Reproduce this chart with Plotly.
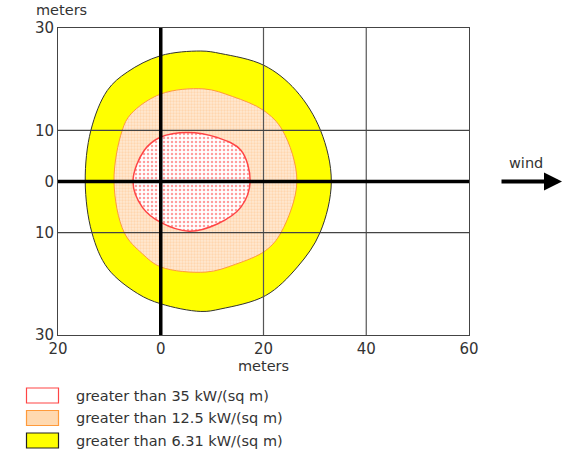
import plotly.graph_objects as go

# threat zone outlines (meters)
yellow_x = [33.2, 31.1, 26.3, 20.1, 11.7, 7.8, 0.0, -6.5, -10.4, -13.6, -14.7,
            -13.4, -10.3, -4.5, 0.0, 7.8, 11.7, 20.4, 26.6, 31.0, 33.2]
yellow_y = [0.0, 10.0, 17.8, 22.7, 25.0, 25.5, 24.6, 21.4, 17.8, 10.0, 0.0,
            -10.0, -17.0, -21.9, -23.9, -25.4, -24.9, -22.3, -16.7, -10.0, 0.0]

orange_x = [26.5, 23.7, 20.0, 14.0, 8.4, 0.0, -5.8, -7.5, -9.1,
            -7.1, -3.6, 0.0, 8.8, 14.5, 20.4, 23.4, 26.5]
orange_y = [0.0, 10.0, 13.9, 16.6, 18.1, 17.1, 13.2, 10.0, 0.0,
            -10.0, -14.1, -16.7, -17.7, -16.2, -13.5, -10.0, 0.0]

red_x = [17.4, 15.6, 11.0, 5.2, 0.0, -3.2, -5.4, -3.6, 0.0, 5.5, 11.0, 15.6, 17.4]
red_y = [0.0, 6.1, 8.6, 9.6, 8.7, 6.1, 0.0, -5.0, -8.0, -9.7, -8.3, -5.0, 0.0]

x_ticks = [-20, 0, 20, 40, 60]
x_tick_text = ['20', '0', '20', '40', '60']
y_ticks = [-30, -10, 0, 10, 30]
y_tick_text = ['30', '10', '0', '10', '30']
grid_x = [20, 40]
grid_y = [-10, 10]

legend_labels = ['greater than 35 kW/(sq m)',
                 'greater than 12.5 kW/(sq m)',
                 'greater than 6.31 kW/(sq m)']

TEXT = '#333333'
FONT = 'DejaVu Sans'

W, H = 580, 462
# plot area in pixels, used to place things outside the axes
L, R, T, B = 58, 469, 28, 335


def px(x):
    return (x - L) / (R - L)


def py(y):
    return (B - y) / (B - T)


fig = go.Figure()

fig.add_trace(go.Scatter(x=yellow_x, y=yellow_y, fill='toself', mode='lines',
                         line=dict(color='#333333', width=1, shape='spline', smoothing=1),
                         fillcolor='#ffff00', hoverinfo='skip'))
fig.add_trace(go.Scatter(x=orange_x, y=orange_y, fill='toself', mode='lines',
                         line=dict(color='#ff9a3a', width=1, shape='spline', smoothing=1),
                         fillcolor='#ffe2c4',
                         fillpattern=dict(shape='.', fgcolor='#ffc48a', bgcolor='#ffe8d2',
                                          size=3, solidity=0.45),
                         hoverinfo='skip'))
fig.add_trace(go.Scatter(x=red_x, y=red_y, fill='toself', mode='lines',
                         line=dict(color='#ff4545', width=1.5, shape='spline', smoothing=1),
                         fillcolor='white',
                         fillpattern=dict(shape='.', fgcolor='#ff3a3a', bgcolor='white',
                                          size=4, solidity=0.3),
                         hoverinfo='skip'))

shapes = []
for gx in grid_x:
    shapes.append(dict(type='line', xref='x', yref='paper', x0=gx, x1=gx, y0=0, y1=1,
                       line=dict(color='#555555', width=1.2), layer='above'))
for gy in grid_y:
    shapes.append(dict(type='line', xref='paper', yref='y', x0=0, x1=1, y0=gy, y1=gy,
                       line=dict(color='#444444', width=1.2), layer='above'))
# thick source axes
shapes.append(dict(type='line', xref='x', yref='paper', x0=0, x1=0, y0=0, y1=1,
                   line=dict(color='black', width=3.5), layer='above'))
shapes.append(dict(type='line', xref='paper', yref='y', x0=0, x1=1, y0=0, y1=0,
                   line=dict(color='black', width=3.5), layer='above'))

# legend swatches
swatches = [('white', '#ff4545'), ('#ffd9b0', '#ff9a3a'), ('#ffff00', '#222222')]
annotations = []
for i, (label, (fc, lc)) in enumerate(zip(legend_labels, swatches)):
    top = 388 + i * 22.5
    shapes.append(dict(type='rect', xref='paper', yref='paper',
                       x0=px(26.5), x1=px(58.5), y0=py(top + 15), y1=py(top),
                       fillcolor=fc, line=dict(color=lc, width=1.2)))
    annotations.append(dict(text=label, xref='paper', yref='paper',
                            x=px(74), y=py(top + 7.5), xanchor='left', yanchor='middle',
                            showarrow=False, font=dict(family=FONT, size=14.5, color=TEXT)))

annotations.append(dict(text='meters', xref='paper', yref='paper', x=px(61), y=py(10),
                        xanchor='center', yanchor='middle', showarrow=False,
                        font=dict(family=FONT, size=14.5, color=TEXT)))
annotations.append(dict(text='wind', xref='paper', yref='paper', x=px(526), y=py(163),
                        xanchor='center', yanchor='middle', showarrow=False,
                        font=dict(family=FONT, size=14.5, color=TEXT)))
annotations.append(dict(text='', xref='paper', yref='y', x=px(562), y=0,
                        ax=-62, ay=0, showarrow=True, arrowhead=2, arrowsize=0.9,
                        arrowwidth=4, arrowcolor='black'))

fig.update_layout(
    width=W, height=H,
    margin=dict(l=L, r=W - R, t=T, b=H - B),
    paper_bgcolor='white', plot_bgcolor='white',
    showlegend=False,
    hovermode=False,
    shapes=shapes,
    annotations=annotations,
    font=dict(family=FONT, color=TEXT),
    xaxis=dict(range=[-20, 60], tickvals=x_ticks, ticktext=x_tick_text,
               showgrid=False, zeroline=False, showline=True, mirror=True,
               linecolor='#444444', linewidth=1, ticks='',
               tickfont=dict(size=15, color=TEXT),
               title=dict(text='meters', font=dict(size=14.5, color=TEXT), standoff=2)),
    yaxis=dict(range=[-30, 30], tickvals=y_ticks, ticktext=y_tick_text,
               showgrid=False, zeroline=False, showline=True, mirror=True,
               linecolor='#444444', linewidth=1, ticks='',
               tickfont=dict(size=15, color=TEXT)),
)

# drop the page's default body margin so the figure sits at the window corner
fig.write_html("out.html", config={'displayModeBar': False},
               post_script="document.body.style.margin = '0';")
